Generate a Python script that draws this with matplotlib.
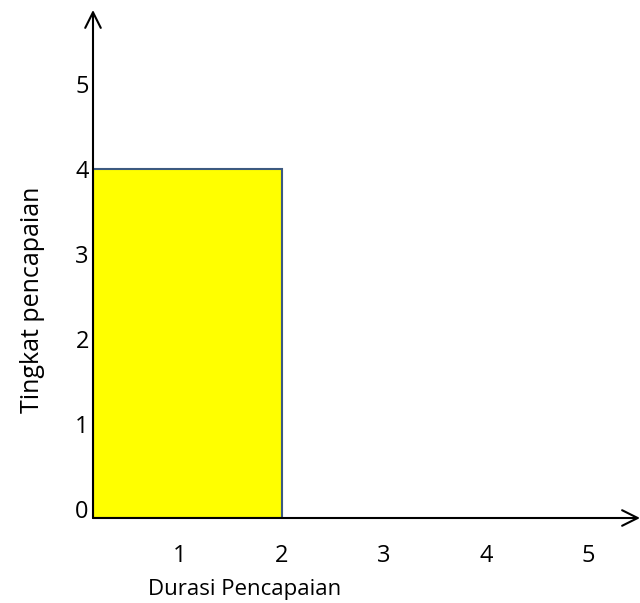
import matplotlib.pyplot as plt

# data
durasi = [2]
tingkat = [4]
x_ticks = [1, 2, 3, 4, 5]
y_ticks = [0, 1, 2, 3, 4, 5]

plt.rcParams['font.family'] = ['Open Sans', 'DejaVu Sans']

fig = plt.figure(figsize=(6.4, 6.03), dpi=100)
W, H = 640, 603
ax = fig.add_axes([93 / W, (H - 518) / H, (640 - 93) / W, (518 - 10) / H])

x0, x1 = 0.147, 5.51
y0, y1 = -0.106, 5.87
ax.set_xlim(x0, x1)
ax.set_ylim(y0, y1)

for d, t in zip(durasi, tingkat):
    ax.bar(x0, t - y0, width=d - x0, bottom=y0, align='edge',
           color='#ffff00', edgecolor='#3d5a80', linewidth=1.5)

for s in ax.spines.values():
    s.set_visible(False)
ax.set_xticks(x_ticks)
ax.set_yticks(y_ticks)
ax.tick_params(length=0, labelsize=17, colors='black')
ax.tick_params(axis='x', pad=19)
ax.tick_params(axis='y', pad=3)

# arrowed axes
ax.annotate('', xy=(0, 1), xytext=(0, 0), xycoords='axes fraction',
            arrowprops=dict(arrowstyle='->', lw=1.5, color='black',
                            mutation_scale=28, shrinkA=0, shrinkB=0),
            annotation_clip=False)
ax.annotate('', xy=(1, 0), xytext=(0, 0), xycoords='axes fraction',
            arrowprops=dict(arrowstyle='->', lw=1.5, color='black',
                            mutation_scale=28, shrinkA=0, shrinkB=0),
            annotation_clip=False)

fig.text(33 / W, 1 - 300 / H, 'Tingkat pencapaian', rotation=90,
         ha='center', va='center', fontsize=18)
fig.text(245 / W, 1 - 590 / H, 'Durasi Pencapaian',
         ha='center', va='center', fontsize=16)

fig.savefig('out.png', dpi=100)
